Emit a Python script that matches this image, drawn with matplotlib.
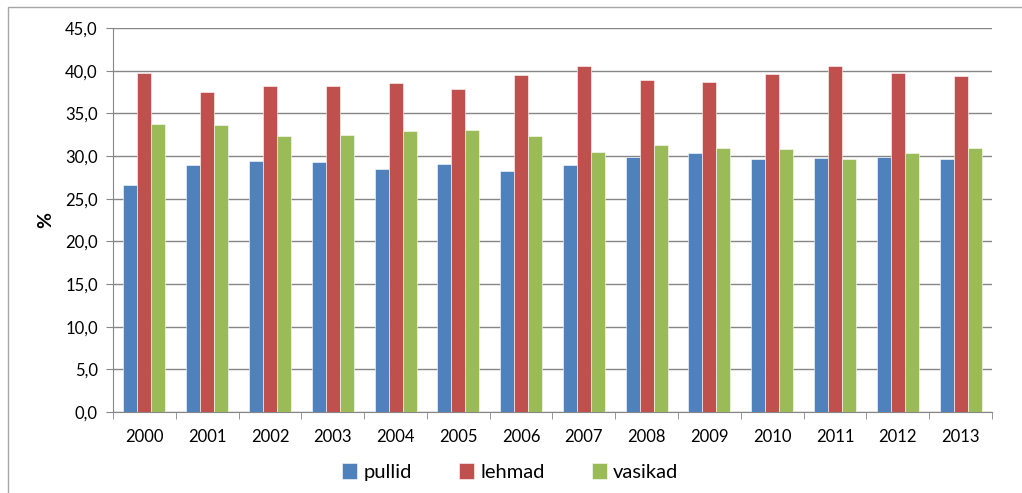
import numpy as np
import matplotlib.pyplot as plt
from matplotlib.patches import Rectangle
from matplotlib.ticker import FuncFormatter

years = ['2000', '2001', '2002', '2003', '2004', '2005', '2006',
         '2007', '2008', '2009', '2010', '2011', '2012', '2013']
pullid = [26.6, 28.9, 29.4, 29.3, 28.5, 29.1, 28.2,
          28.9, 29.9, 30.4, 29.6, 29.8, 29.9, 29.7]
lehmad = [39.7, 37.5, 38.2, 38.2, 38.5, 37.9, 39.5,
          40.5, 38.9, 38.7, 39.6, 40.5, 39.7, 39.4]
vasikad = [33.7, 33.6, 32.4, 32.5, 32.9, 33.0, 32.3,
           30.5, 31.3, 30.9, 30.8, 29.7, 30.4, 30.9]

series = [('pullid', pullid, '#4F81BD'),
          ('lehmad', lehmad, '#C0504D'),
          ('vasikad', vasikad, '#9BBB59')]

plt.rcParams['font.family'] = ['Lato', 'DejaVu Sans']

fig = plt.figure(figsize=(10.22, 4.93), dpi=100)
ax = fig.add_axes([0.1106, 0.1643, 0.86, 0.7789])

# rama ümber graafiku
fig.patches.append(Rectangle((8 / 1022, -0.2), 1.2, 0.2 + (493 - 7) / 493,
                             transform=fig.transFigure, fill=False,
                             edgecolor='#A6A6A6', linewidth=1.0))

x = np.arange(len(years))
w = 0.223
for i, (name, vals, col) in enumerate(series):
    ax.bar(x + (i - 1) * w, vals, w, color=col, label=name,
           edgecolor='white', linewidth=0.4, zorder=3)

ax.set_xlim(-0.5, len(years) - 0.5)
ax.set_ylim(0, 45)
ax.set_yticks(np.arange(0, 46, 5))
ax.yaxis.set_major_formatter(FuncFormatter(lambda v, p: f'{v:.1f}'.replace('.', ',')))
ax.set_xticks(x)
ax.set_xticklabels(years)
ax.set_xticks(np.arange(-0.5, len(years), 1), minor=True)
ax.tick_params(axis='x', which='major', length=0, labelsize=12, pad=12)
ax.tick_params(axis='x', which='minor', length=5, color='#868686', direction='out')
ax.tick_params(axis='y', length=5, color='#868686', labelsize=12, pad=6)

ax.grid(axis='y', color='#868686', linewidth=1.0, zorder=0)
for s in ['top', 'right']:
    ax.spines[s].set_visible(False)
for s in ['left', 'bottom']:
    ax.spines[s].set_color('#868686')

ax.set_ylabel('%', fontsize=14, fontweight='bold', labelpad=8)

ax.legend(loc='upper center', bbox_to_anchor=(0.452, -0.085), ncol=3,
          frameon=False, fontsize=14.5, handlelength=0.75, handleheight=0.9,
          columnspacing=2.35, handletextpad=0.3)

fig.savefig('out.png', dpi=100)
